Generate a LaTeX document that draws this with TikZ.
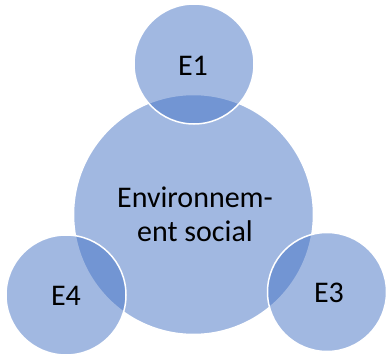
\documentclass[tikz,border=0pt]{standalone}
\usepackage{fontspec}
\setmainfont{Carlito}
\definecolor{accentblue}{RGB}{68,114,196}
\tikzset{
  bigdisc/.style={circle, fill=accentblue, fill opacity=0.5, draw=white, line width=1.5pt, minimum size=240pt, inner sep=0pt},
  smalldisc/.style={circle, fill=accentblue, fill opacity=0.5, draw=white, draw opacity=1, line width=1.5pt, minimum size=120pt, inner sep=0pt},
  lbl/.style={font=\fontsize{30}{34}\selectfont, text=black, text opacity=1, align=center, inner sep=0pt}
}
\begin{document}
\begin{tikzpicture}[x=1pt,y=-1pt]
\useasboundingbox (0,0) rectangle (386,356);
\node[bigdisc] (env) at (193.5,214.5) {};
\node[smalldisc] (e1) at (194,64) {};
\node[smalldisc] (e4) at (66,295) {};
\node[smalldisc, minimum size=119pt] (e3) at (327,292) {};
\node[lbl, anchor=base] (envt) at (195,241) {Environnem-\\ent social};
\node[lbl, anchor=base] (e1t) at (193,75) {E1};
\node[lbl, anchor=base] (e4t) at (66,305) {E4};
\node[lbl, anchor=base] (e3t) at (329,302) {E3};
\end{tikzpicture}
\end{document}
